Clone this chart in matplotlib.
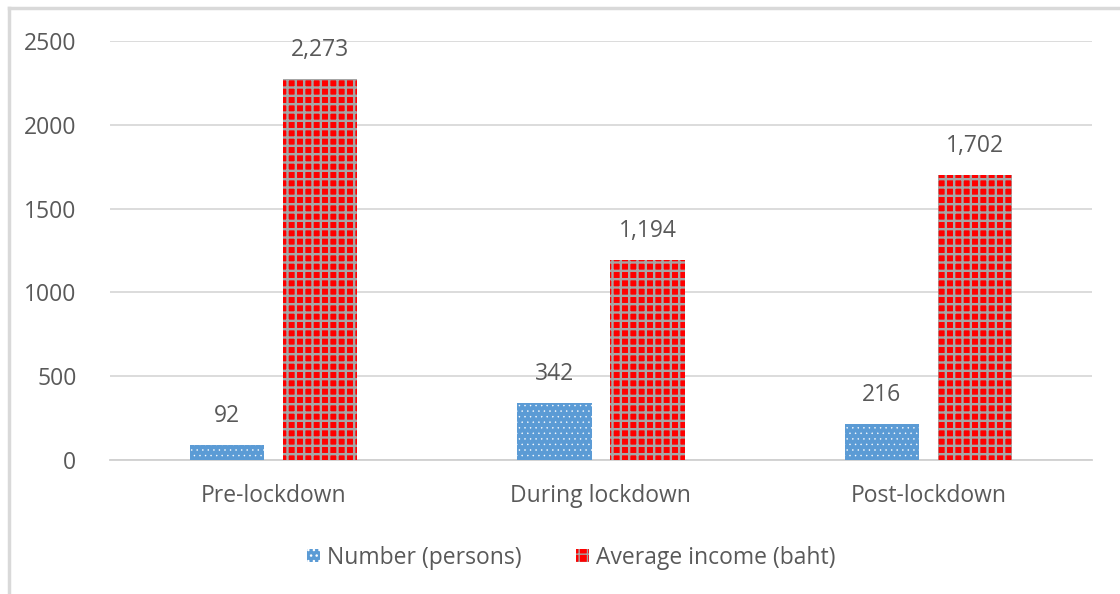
import numpy as np
import matplotlib.pyplot as plt
from matplotlib.lines import Line2D

plt.rcParams['font.family'] = ['Open Sans', 'DejaVu Sans']

periods = ['Pre-lockdown', 'During lockdown', 'Post-lockdown']
persons = [92, 342, 216]
income = [2273, 1194, 1702]
series_names = ['Number (persons)', 'Average income (baht)']

text_grey = '#595959'
grid_grey = '#D9D9D9'
fs = 16.5

fig = plt.figure(figsize=(11.2, 5.94), dpi=100)
ax = fig.add_axes([0.098, 0.2256, 0.877, 0.7054])

x = np.arange(len(periods))
w = 0.227
off = 0.142

# blue bars with small white dots, red bars with grey check pattern
with plt.rc_context({'hatch.linewidth': 0.3}):
    b1 = ax.bar(x - off, persons, w, color='#5B9BD5', edgecolor='white',
                linewidth=0, hatch='...', zorder=3)
with plt.rc_context({'hatch.linewidth': 1.7}):
    b2 = ax.bar(x + off, income, w, color='#FF0000', edgecolor='#A6A6A6',
                linewidth=0, hatch='++', zorder=3)

for bars, vals in ((b1, persons), (b2, income)):
    for rect, v in zip(bars, vals):
        ax.annotate(f'{v:,}', (rect.get_x() + rect.get_width() / 2, v),
                    xytext=(0, 12), textcoords='offset points',
                    ha='center', va='bottom', fontsize=fs, color=text_grey)

ax.set_xlim(-0.5, 2.5)
ax.set_ylim(0, 2500)
ax.set_yticks(range(0, 2501, 500))
ax.set_xticks(x)
ax.set_xticklabels(periods)
ax.tick_params(axis='both', length=0, labelsize=fs, labelcolor=text_grey)
ax.tick_params(axis='y', pad=24)
ax.tick_params(axis='x', pad=17)
ax.yaxis.grid(True, color=grid_grey, linewidth=1.3, zorder=0)
for s in ('top', 'right', 'left'):
    ax.spines[s].set_visible(False)
ax.spines['bottom'].set_color('#D0D0D0')
ax.spines['bottom'].set_linewidth(1.3)

leg = ax.legend([b1, b2], series_names, loc='upper center',
                bbox_to_anchor=(0.47, -0.155), ncol=2, frameon=False,
                fontsize=fs, handlelength=0.55, handleheight=0.55,
                handletextpad=0.3, columnspacing=2.4)
for t in leg.get_texts():
    t.set_color(text_grey)

# light frame around the chart area
fig.add_artist(Line2D([0.008, 0.008], [0, 0.986], color='#D9D9D9', lw=2.5,
                      transform=fig.transFigure))
fig.add_artist(Line2D([0.008, 1.0], [0.986, 0.986], color='#D9D9D9', lw=2.5,
                      transform=fig.transFigure))

fig.savefig('out.png', dpi=100)
